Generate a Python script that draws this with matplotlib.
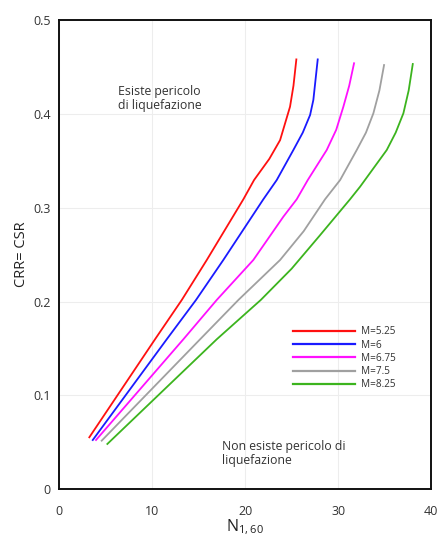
import matplotlib
matplotlib.use("Agg")
import matplotlib.pyplot as plt

# ---- data ----
labels = ["M=5.25", "M=6", "M=6.75", "M=7.5", "M=8.25"]
colors = ["#ff1010", "#1a1aff", "#ff10ff", "#a0a0a0", "#3cb41e"]

n_m525 = [3.23, 10.30, 13.18, 15.87, 19.81, 20.96, 22.60, 23.76, 24.83, 25.20, 25.51]
crr_m525 = [0.0554, 0.1598, 0.2017, 0.2443, 0.309, 0.3295, 0.352, 0.372, 0.4076, 0.430, 0.458]

n_m6 = [3.60, 11.56, 14.71, 17.65, 21.96, 23.40, 25.19, 26.20, 26.99, 27.34, 27.81]
crr_m6 = [0.0525, 0.1598, 0.2017, 0.2443, 0.309, 0.3295, 0.3615, 0.380, 0.3988, 0.4148, 0.458]

n_m675 = [3.95, 13.35, 16.94, 20.88, 24.11, 25.55, 26.74, 28.78, 29.80, 30.57, 31.20, 31.72]
crr_m675 = [0.0525, 0.1598, 0.2017, 0.2443, 0.2904, 0.309, 0.3295, 0.3615, 0.383, 0.4076, 0.430, 0.4539]

n_m75 = [4.56, 15.15, 19.27, 23.76, 26.30, 28.60, 30.22, 32.01, 33.00, 33.80, 34.45, 34.95]
crr_m75 = [0.0518, 0.1598, 0.2017, 0.2443, 0.275, 0.309, 0.3295, 0.3615, 0.380, 0.4006, 0.425, 0.452]

n_m825 = [5.17, 16.94, 21.68, 25.00, 28.00, 31.29, 32.37, 35.24, 36.20, 37.03, 37.60, 38.04]
crr_m825 = [0.0483, 0.1598, 0.2017, 0.235, 0.270, 0.309, 0.3224, 0.3615, 0.380, 0.4006, 0.425, 0.4531]

series_x = [n_m525, n_m6, n_m675, n_m75, n_m825]
series_y = [crr_m525, crr_m6, crr_m675, crr_m75, crr_m825]

x_ticks = [0, 10, 20, 30, 40]
y_ticks = [0, 0.1, 0.2, 0.3, 0.4, 0.5]
y_tick_labels = ["0", "0.1", "0.2", "0.3", "0.4", "0.5"]

plt.rcParams['font.family'] = ['Open Sans', 'DejaVu Sans']

fig = plt.figure(figsize=(4.38, 5.43), dpi=100)
ax = fig.add_axes([0.1354, 0.0989, 0.8486, 0.8643])

for xs, ys, c, lab in zip(series_x, series_y, colors, labels):
    ax.plot(xs, ys, color=c, lw=1.3, label=lab, zorder=3,
            solid_joinstyle='round')

ax.set_xlim(0, 40)
ax.set_ylim(0, 0.5)
ax.set_xticks(x_ticks)
ax.set_yticks(y_ticks)
ax.set_yticklabels(y_tick_labels)
ax.grid(True, color="#ededed", lw=0.8, zorder=0)
ax.tick_params(axis='both', length=0, labelsize=9, labelcolor="#333333")
ax.tick_params(axis='x', pad=11)
ax.tick_params(axis='y', pad=6)
for s in ax.spines.values():
    s.set_linewidth(1.4)
    s.set_color("#111111")

ax.set_ylabel("CRR= CSR", fontsize=10.5, color="#222222", labelpad=3)
ax.set_xlabel(r"$\mathregular{N_{1,60}}$", fontsize=11.5, color="#222222", labelpad=0)

ax.text(6.35, 0.431, "Esiste pericolo\ndi liquefazione", fontsize=8.8,
        color="#333333", va="top", ha="left", linespacing=1.1)
ax.text(17.5, 0.0525, "Non esiste pericolo di\nliquefazione", fontsize=8.8,
        color="#333333", va="top", ha="left", linespacing=1.1)

leg = ax.legend(loc="upper left", bbox_to_anchor=(0.6296, 0.3470), frameon=False,
                fontsize=7.2, handlelength=6.2, handletextpad=0.6,
                labelspacing=0.22, borderpad=0, borderaxespad=0)
for t in leg.get_texts():
    t.set_color("#333333")
for h in leg.get_lines():
    h.set_linewidth(1.6)

fig.savefig("out.png", dpi=100)
